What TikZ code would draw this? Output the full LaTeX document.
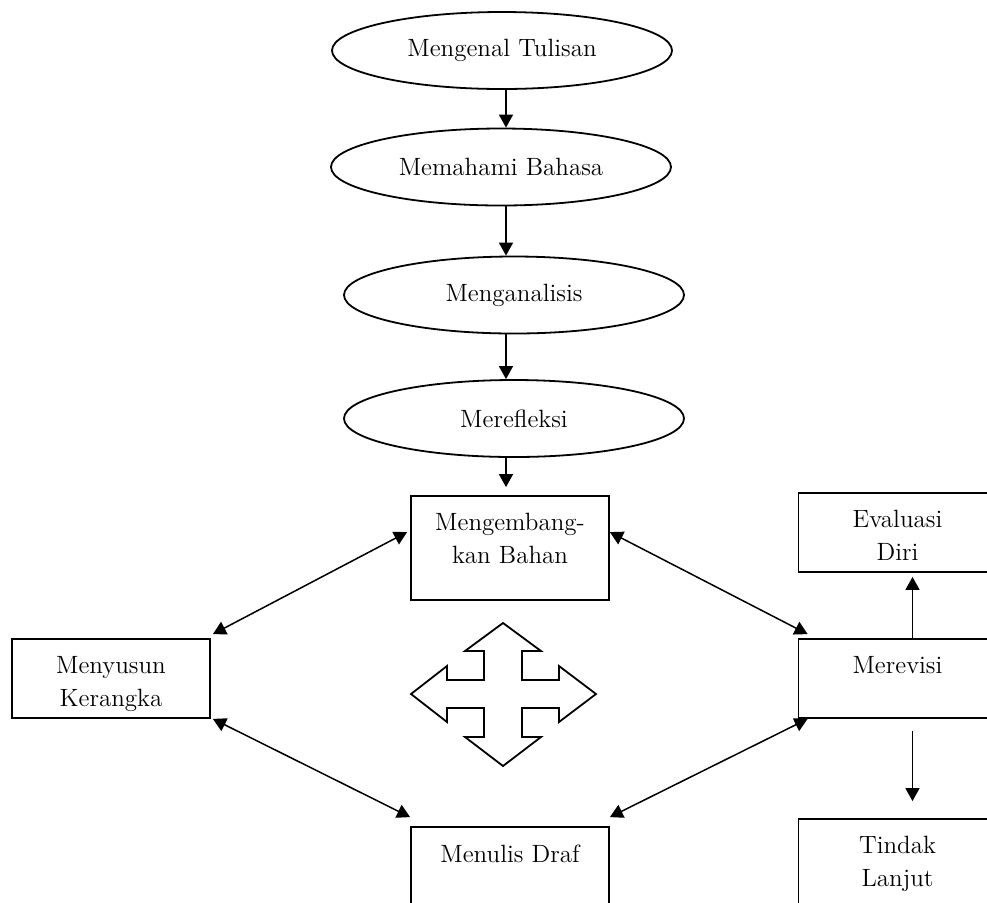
\documentclass[tikz,border=0pt]{standalone}
\usepackage{tikz}
\usetikzlibrary{arrows.meta, shapes.geometric}
\tikzset{
	teks/.style={font=\fontsize{12.5}{16.5}\selectfont},
	tahap/.style={draw, ellipse, teks, line width=0.9pt, minimum width=170pt, minimum height=38.5pt, inner sep=0pt},
	kotak/.style={draw, rectangle, line width=0.9pt, minimum width=99pt, minimum height=39.5pt, inner sep=0pt},
	isi/.style={anchor=north, teks, inner sep=0pt, align=center, yshift=-9pt},
	ujung/.tip={Triangle[length=6.5pt, width=7pt]},
	alur/.style={line width=0.75pt, -ujung},
	dua/.style={line width=0.75pt, ujung-ujung},
}
\begin{document}
\begin{tikzpicture}[x=0.5pt, y=-0.5pt]
	\clip (0,0) rectangle (987,902);
	\node[tahap] (tulisan) at (502,50.5) {Mengenal Tulisan};
	\node[tahap] (bahasa) at (501,167) {Memahami Bahasa};
	\node[tahap] (analisis) at (514,295) {Menganalisis};
	\node[tahap] (refleksi) at (514,418.5) {Merefleksi};
	\coordinate (poros) at (506,0);
	\draw[alur] (tulisan.south -| poros) -- (bahasa.north -| poros);
	\draw[alur] (bahasa.south -| poros) -- (analisis.north -| poros);
	\draw[alur] (analisis.south -| poros) -- (refleksi.north -| poros);

	\node[kotak, minimum height=52pt, label={[isi]north:Mengembang-\\kan Bahan}] (kembang) at (510,548) {};
	\node[kotak, label={[isi]north:Menyusun\\Kerangka}] (kerangka) at (111,678.5) {};
	\node[kotak, label={[isi]north:Merevisi}] (revisi) at (897.5,678.5) {};
	\node[kotak, label={[isi]north:Evaluasi\\Diri}] (evaluasi) at (897.5,532.5) {};
	\node[kotak, minimum height=52pt, label={[isi]north:Menulis Draf}] (draf) at (510,879) {};
	\node[kotak, minimum height=52pt, label={[isi]north:Tindak\\Lanjut}] (tindak) at (897.5,871) {};
	\draw[alur, shorten >=4pt] (refleksi.south -| poros) -- (kembang.north -| poros);

	\draw[dua] ([xshift=-1.5pt, yshift=-18.5pt]kembang.north west) -- ([xshift=1pt, yshift=2pt]kerangka.north east);
	\draw[dua] ([yshift=-18.5pt]kembang.north east) -- ([xshift=5pt, yshift=2pt]revisi.north west);
	\draw[dua] ([xshift=1pt]kerangka.south east) -- ([yshift=4.5pt]draf.north west);
	\draw[dua] ([yshift=4.5pt]draf.north east) -- ([xshift=5pt]revisi.south west);
	\draw[alur, shorten >=2pt] ([xshift=7.5pt]revisi.north) -- ([xshift=7.5pt]evaluasi.south);
	\draw[alur, shorten <=6pt, shorten >=8.5pt] ([xshift=7.5pt]revisi.south) -- ([xshift=7.5pt]tindak.north);

	\draw[line width=0.9pt, shift={(503,694)}] (0,-71) -- (38,-43) -- (19,-43) -- (19,-14) -- (56,-14) -- (56,-28) -- (93,0) -- (56,28) -- (56,14) -- (19,14) -- (19,43) -- (38,43) -- (0,72) -- (-38,43) -- (-19,43) -- (-19,14) -- (-56,14) -- (-56,28) -- (-92,0) -- (-56,-28) -- (-56,-14) -- (-19,-14) -- (-19,-43) -- (-38,-43) -- cycle;
\end{tikzpicture}
\end{document}
